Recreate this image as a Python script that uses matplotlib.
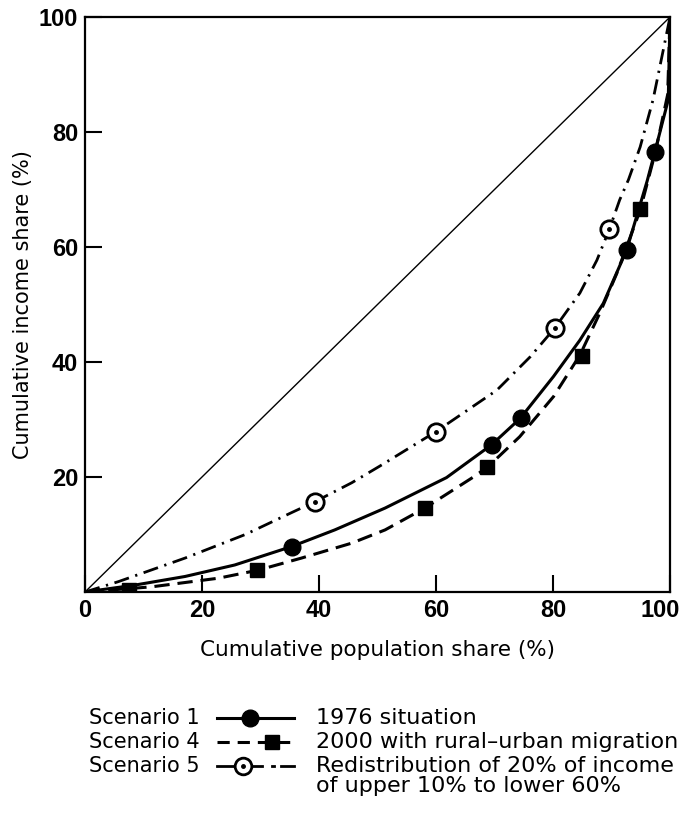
import numpy as np
import matplotlib as mpl
import matplotlib.pyplot as plt
from matplotlib.transforms import ScaledTranslation

mpl.rcParams.update({
    'font.family': ['DejaVu Sans'],
    'axes.linewidth': 1.6,
    'xtick.direction': 'in',
    'ytick.direction': 'in',
})

# Lorenz curves (cumulative population %, cumulative income %)
s1_x = [0, 8.5, 17.1, 25.6, 35.3, 42.7, 51.3, 61.8, 69.5, 74.4, 80.1, 84.6, 88.6, 92.6, 96.1, 97.4, 99.7, 100]
s1_y = [0, 1.2, 2.7, 4.7, 7.9, 10.8, 14.6, 19.9, 25.6, 30.2, 37.5, 43.8, 50.2, 59.5, 71.5, 76.5, 85.6, 100]
s1_mx = [35.4, 69.6, 74.5, 92.6, 97.4]
s1_my = [7.8, 25.6, 30.3, 59.5, 76.5]

s4_x = [0, 11.4, 22.8, 29.6, 37.0, 45.6, 51.3, 58.1, 66.4, 68.9, 74.3, 80.1, 84.6, 88.0, 90.9, 94.9, 97.5, 99.6, 100]
s4_y = [0, 0.9, 2.4, 3.8, 5.9, 8.5, 10.8, 14.6, 20.0, 21.8, 27.0, 34.0, 41.2, 48.5, 55.4, 66.4, 76.5, 86.5, 100]
s4_mx = [7.5, 29.4, 58.1, 68.7, 85.0, 94.9]
s4_my = [0.4, 3.8, 14.6, 21.7, 41.0, 66.6]

s5_x = [0, 5.7, 17.1, 27.4, 35.3, 39.3, 45.6, 50.4, 60.0, 70.4, 76.1, 80.3, 84.6, 87.5, 89.6, 91.4, 92.9, 94.9, 97.1, 99.1, 100]
s5_y = [0, 1.8, 5.9, 10.0, 13.8, 15.7, 19.0, 21.9, 27.9, 35.1, 40.9, 45.9, 52.0, 57.7, 63.0, 68.2, 71.7, 77.4, 85.6, 95.5, 100]
s5_mx = [39.3, 60.0, 80.3, 89.6]
s5_my = [15.7, 27.8, 45.9, 63.1]

x_ticks = [0, 20, 40, 60, 80, 100]
y_ticks = [20, 40, 60, 80, 100]

scenario_names = ['Scenario 1', 'Scenario 4', 'Scenario 5']
scenario_desc = ['1976 situation', '2000 with rural\u2013urban migration',
                 'Redistribution of 20% of income\nof upper 10% to lower 60%']

fig = plt.figure(figsize=(6.85, 8.15), dpi=100)
ax = fig.add_axes([85/685, 1 - 592/815, 585/685, 575/815])

ax.plot([0, 100], [0, 100], c='black', lw=1.0)

ax.plot(s1_x, s1_y, c='black', lw=2.2)
ax.plot(s1_mx, s1_my, ls='none', marker='o', ms=12, mfc='black', mec='black')

ax.plot(s4_x, s4_y, c='black', lw=2.2, dashes=(5, 2.6))
ax.plot(s4_mx, s4_my, ls='none', marker='s', ms=10, mfc='black', mec='black')

ax.plot(s5_x, s5_y, c='black', lw=2.0, dashes=(5.5, 2.4, 0.8, 2.4))
ax.plot(s5_mx, s5_my, ls='none', marker='o', ms=12.5, mfc='white', mec='black', mew=2.0)
ax.plot(s5_mx, s5_my, ls='none', marker='o', ms=2.5, mfc='black', mec='black')

ax.set_xlim(0, 100)
ax.set_ylim(0, 100)
ax.set_xticks(x_ticks)
ax.set_yticks(y_ticks)
ax.tick_params(length=12, width=1.5, labelsize=17, pad=5)
for lab in ax.get_xticklabels() + ax.get_yticklabels():
    lab.set_fontweight('bold')
    lab.set_family('Liberation Sans')
# last x label sits a little left of its tick, as in the original
lab100 = ax.xaxis.get_major_ticks()[-1].label1
lab100.set_transform(lab100.get_transform() + ScaledTranslation(-0.10, 0, fig.dpi_scale_trans))

ax.set_xlabel('Cumulative population share (%)', fontsize=15.5, labelpad=13)
ax.set_ylabel('Cumulative income share (%)', fontsize=15, labelpad=4)

# key
rows = [718, 742, 766]
for name, desc, yy in zip(scenario_names, scenario_desc, rows):
    fig.text(89/685, 1 - yy/815, name, fontsize=15, va='center', ha='left')
    fig.text(316/685, 1 - (yy - 10)/815, desc, fontsize=16, va='top', ha='left',
             linespacing=1.0)

kax = fig.add_axes([215/685, 1 - 778/815, 82/685, 72/815])
kax.set_xlim(215, 297)
kax.set_ylim(778, 706)
kax.axis('off')
kax.plot([217, 294], [718, 718], c='black', lw=2.2)
kax.plot([250], [718], marker='o', ms=12, c='black')
kax.plot([217, 294], [742, 742], c='black', lw=2.2, dashes=(4.0, 2.6))
kax.plot([272], [742], marker='s', ms=10, c='black')
kax.plot([217, 262], [766, 766], c='black', lw=2.0)
kax.plot([272, 274], [766, 766], c='black', lw=2.0)
kax.plot([281, 294], [766, 766], c='black', lw=2.0)
kax.plot([243], [766], marker='o', ms=12, mfc='white', mec='black', mew=2.0)
kax.plot([243], [766], marker='o', ms=2.5, c='black')

fig.savefig('out.png', dpi=100)
